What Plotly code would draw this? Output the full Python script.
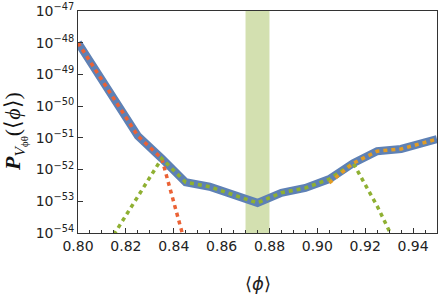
import plotly.graph_objects as go

# phi values
x_total = [0.80, 0.825, 0.835, 0.845, 0.855, 0.865, 0.875, 0.885, 0.895, 0.905, 0.915, 0.925, 0.935, 0.95]
log_total = [-48.0, -50.94, -51.65, -52.4, -52.54, -52.8, -53.05, -52.73, -52.58, -52.3, -51.8, -51.42, -51.35, -51.04]

x_red = [0.80, 0.825, 0.835, 0.845]
log_red = [-48.0, -50.94, -51.65, -54.4]

x_green = [0.815, 0.825, 0.835, 0.845, 0.855, 0.865, 0.875, 0.885, 0.895, 0.905, 0.915, 0.925, 0.935]
log_green = [-54.05, -52.85, -51.65, -52.4, -52.54, -52.8, -53.05, -52.73, -52.58, -52.3, -51.8, -53.15, -54.7]

x_orange = [0.905, 0.915, 0.925, 0.935, 0.95]
log_orange = [-52.42, -51.8, -51.42, -51.35, -51.04]

band = [0.87, 0.88]

x_ticks = [0.80, 0.82, 0.84, 0.86, 0.88, 0.90, 0.92, 0.94]
x_ticktext = ["0.80", "0.82", "0.84", "0.86", "0.88", "0.90", "0.92", "0.94"]
y_exps = [-54, -53, -52, -51, -50, -49, -48, -47]

x_title = "⟨<i>ϕ</i>⟩"
y_title = "<b><i>P</i></b><sub><i>V</i><sub>ϕθ</sub></sub>(⟨<i>ϕ</i>⟩)"


def vals(logs):
    return [10.0 ** v for v in logs]


fig = go.Figure()
fig.add_trace(go.Scatter(x=x_total, y=vals(log_total), mode="lines",
                         line=dict(color="#5E81B5", width=8), showlegend=False))
fig.add_trace(go.Scatter(x=x_red, y=vals(log_red), mode="lines",
                         line=dict(color="#EB6235", width=3.5, dash="4px,4px"), showlegend=False))
fig.add_trace(go.Scatter(x=x_green, y=vals(log_green), mode="lines",
                         line=dict(color="#8FB032", width=3.5, dash="4px,4px"), showlegend=False))
fig.add_trace(go.Scatter(x=x_orange, y=vals(log_orange), mode="lines",
                         line=dict(color="#E19C24", width=3.5, dash="4px,4px"), showlegend=False))

fig.add_shape(type="rect", xref="x", yref="paper", x0=band[0], x1=band[1], y0=0, y1=1,
              fillcolor="#D3E0B0", line=dict(width=0), layer="below")

fig.add_annotation(text=x_title, xref="paper", yref="paper", x=0.5, y=-0.2297,
                   xanchor="center", yanchor="middle", showarrow=False,
                   font=dict(family="DejaVu Sans", size=18, color="#222222"))
fig.add_annotation(text=y_title, xref="paper", yref="paper", x=-0.1755, y=0.46,
                   xanchor="center", yanchor="middle", showarrow=False, textangle=-90,
                   font=dict(family="Liberation Serif", size=22, color="#111111"))

fig.update_layout(
    width=439, height=294,
    margin=dict(l=78, r=2, t=11, b=61),
    plot_bgcolor="white", paper_bgcolor="white",
    font=dict(family="DejaVu Sans", size=14, color="#222222"),
)
fig.update_xaxes(
    range=[0.80, 0.95], tickvals=x_ticks, ticktext=x_ticktext,
    ticks="inside", ticklen=5, tickcolor="#333333",
    minor=dict(dtick=0.005, ticks="inside", ticklen=3, tickcolor="#333333", showgrid=False),
    showgrid=False, zeroline=False, showline=True, linecolor="#333333", linewidth=1, mirror=True,
)
fig.update_yaxes(
    type="log", range=[-54, -47],
    tickvals=[10.0 ** e for e in y_exps],
    ticktext=["10<sup>−%d</sup>" % (-e) for e in y_exps],
    ticks="inside", ticklen=5, tickcolor="#333333",
    showgrid=False, zeroline=False, showline=True, linecolor="#333333", linewidth=1, mirror=True,
)

fig.write_html("out.html", config={"displayModeBar": False},
               post_script="document.body.style.margin='0';document.body.style.overflow='hidden';")
